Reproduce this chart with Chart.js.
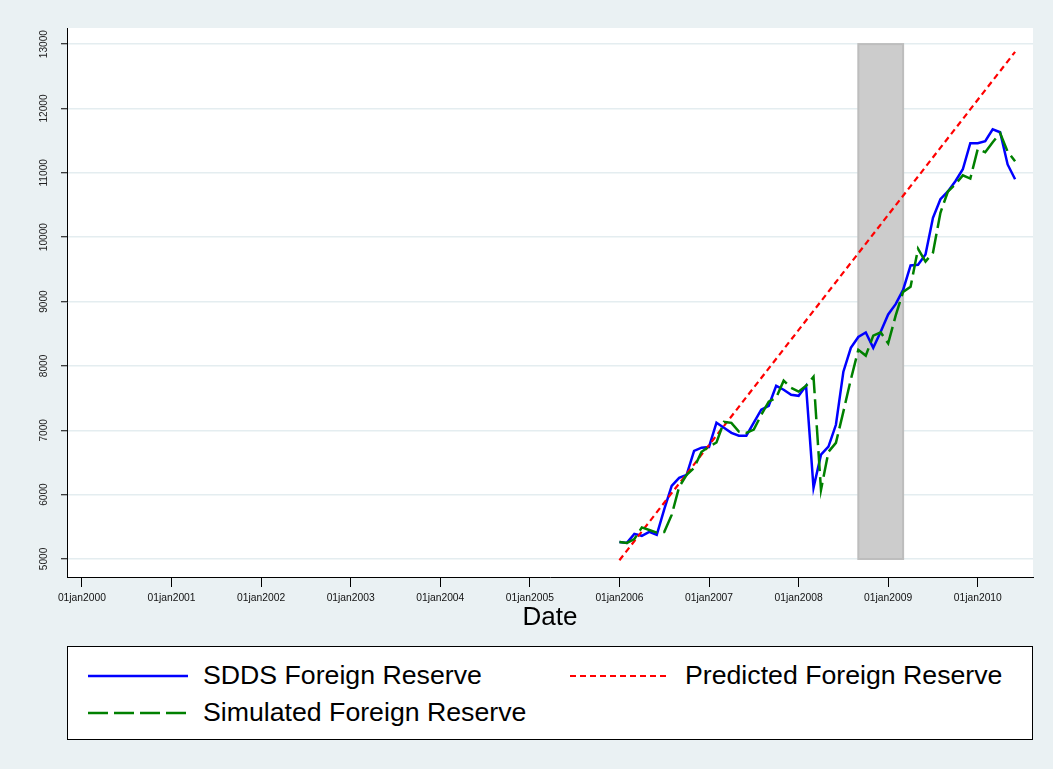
<!DOCTYPE html>
<html>
<head>
<meta charset="utf-8">
<script src="https://cdn.jsdelivr.net/npm/chart.js@4.4.1/dist/chart.umd.min.js"></script>
<style>
  body { margin: 0; background: #eaf1f3; font-family: Arial, "Liberation Sans", sans-serif; }
  #wrap { position: relative; width: 1053px; height: 769px; }
  #chart { position: absolute; left: 0; top: 0; }
  #xtitle { position: absolute; left: 0; width: 1100px; top: 601px; text-align: center; font-size: 26px; color: #000; }
  #legend { position: absolute; left: 67px; top: 646px; width: 964px; height: 92px; background: #fff; border: 1px solid #000; }
  .item { position: absolute; font-size: 26.7px; line-height: 30px; color: #000; white-space: nowrap; }
  .item svg { position: absolute; left: 0; top: 13px; }
  .item span { position: absolute; left: 115px; top: 0; }
</style>
</head>
<body>
<div id="wrap">
  <canvas id="chart" width="1053" height="769"></canvas>
  <div id="xtitle">Date</div>
  <div id="legend">
    <div class="item" style="left:20px;top:13px"><svg width="102" height="6"><line x1="0" y1="3" x2="100" y2="3" stroke="#0000ff" stroke-width="2.5"/></svg><span>SDDS Foreign Reserve</span></div>
    <div class="item" style="left:502px;top:13px"><svg width="102" height="6"><line x1="0" y1="3" x2="100" y2="3" stroke="#ff0000" stroke-width="2" stroke-dasharray="6,4"/></svg><span>Predicted Foreign Reserve</span></div>
    <div class="item" style="left:20px;top:50px"><svg width="102" height="6"><line x1="0" y1="3" x2="100" y2="3" stroke="#008000" stroke-width="2.5" stroke-dasharray="20,6"/></svg><span>Simulated Foreign Reserve</span></div>
  </div>
</div>
<script>
// months counted from 01jan2000; series start in jan 2006
const firstMonth = 72;

const sdds = [5265, 5250, 5390, 5360, 5420, 5375, 5770, 6136, 6260, 6307, 6680, 6730,
  6740, 7117, 7040, 6960, 6915, 6915, 7117, 7320, 7380, 7690, 7630, 7550,
  7535, 7690, 6105, 6620, 6745, 7085, 7910, 8280, 8450, 8520, 8280, 8530,
  8800, 8960, 9180, 9560, 9570, 9730, 10300, 10590, 10710, 10870, 11055, 11460,
  11460, 11490, 11675, 11630, 11130, 10900];

const simulated = [5265, 5250, 5310, 5490, 5450, 5410, 5420, 5685, 6120, 6307, 6415, 6665,
  6745, 6810, 7130, 7115, 6980, 6960, 7010, 7240, 7445, 7505, 7770, 7660,
  7600, 7690, 7830, 6075, 6665, 6805, 7290, 7790, 8250, 8160, 8470, 8520,
  8350, 8780, 9150, 9230, 9820, 9620, 9760, 10380, 10710, 10820, 10960, 10910,
  11370, 11320, 11475, 11615, 11330, 11180];

// straight trend line, read at its two ends
const predictedMonths = [72, 125];
const predicted = [4980, 12880];

const yearTicks = [2000, 2001, 2002, 2003, 2004, 2005, 2006, 2007, 2008, 2009, 2010];
const yTicks = [5000, 6000, 7000, 8000, 9000, 10000, 11000, 12000, 13000];

// recession band: sep 2008 - mar 2009
const bandStart = 104;
const bandEnd = 110;

function toPoints(vals, start) {
  return vals.map((v, i) => ({ x: start + i, y: v }));
}

const bgPlugin = {
  id: 'bg',
  beforeDraw(chart) {
    const ctx = chart.ctx, a = chart.chartArea;
    ctx.save();
    ctx.fillStyle = '#eaf1f3';
    ctx.fillRect(0, 0, chart.width, chart.height);
    ctx.fillStyle = '#ffffff';
    ctx.fillRect(a.left, a.top, a.right - a.left, a.bottom - a.top);
    ctx.restore();
  },
  beforeDatasetsDraw(chart) {
    const ctx = chart.ctx, x = chart.scales.x, y = chart.scales.y;
    const x0 = x.getPixelForValue(bandStart), x1 = x.getPixelForValue(bandEnd);
    const y0 = y.getPixelForValue(13000), y1 = y.getPixelForValue(5000);
    ctx.save();
    ctx.fillStyle = '#cccccc';
    ctx.fillRect(x0, y0, x1 - x0, y1 - y0);
    ctx.strokeStyle = '#bdbdbd';
    ctx.lineWidth = 2;
    ctx.strokeRect(x0, y0, x1 - x0, y1 - y0);
    ctx.restore();
  },
  afterDraw(chart) {
    // rotated y labels like the stata output
    const ctx = chart.ctx, y = chart.scales.y;
    ctx.save();
    ctx.fillStyle = '#222';
    ctx.font = '11px Arial, "Liberation Sans"';
    ctx.textAlign = 'center';
    ctx.textBaseline = 'middle';
    yTicks.forEach(v => {
      ctx.save();
      ctx.translate(44, y.getPixelForValue(v));
      ctx.rotate(-Math.PI / 2);
      ctx.scale(0.92, 1);
      ctx.fillText(String(v), 0, 0);
      ctx.restore();
    });
    ctx.restore();
  }
};

new Chart(document.getElementById('chart'), {
  type: 'line',
  data: {
    datasets: [{
      label: 'SDDS Foreign Reserve',
      data: toPoints(sdds, firstMonth),
      borderColor: '#0000ff',
      borderWidth: 2.5,
      order: 2
    }, {
      label: 'Predicted Foreign Reserve',
      data: predictedMonths.map((m, i) => ({ x: m, y: predicted[i] })),
      borderColor: '#ff0000',
      borderWidth: 2.2,
      borderDash: [6, 4],
      order: 1
    }, {
      label: 'Simulated Foreign Reserve',
      data: toPoints(simulated, firstMonth),
      borderColor: '#008000',
      borderWidth: 2.5,
      borderDash: [20, 6],
      order: 0
    }]
  },
  options: {
    responsive: false,
    devicePixelRatio: 1,
    animation: false,
    layout: { padding: { left: 0, top: 28, right: 20, bottom: 0 } },
    elements: { point: { radius: 0 }, line: { tension: 0, fill: false } },
    plugins: { legend: { display: false }, tooltip: { enabled: false } },
    scales: {
      x: {
        type: 'linear',
        min: -2,
        max: 127.4,
        afterBuildTicks: s => { s.ticks = yearTicks.map(yr => ({ value: (yr - 2000) * 12 })); },
        afterFit: s => { s.height = 192; },
        grid: { drawOnChartArea: false, drawTicks: true, tickLength: 10, tickColor: '#000', tickWidth: 1 },
        border: { display: true, color: '#000', width: 1 },
        ticks: {
          autoSkip: false, maxRotation: 0, minRotation: 0, padding: 5,
          color: '#111', font: { size: 10.3, family: 'Arial, "Liberation Sans"' },
          callback: v => '01jan' + (2000 + v / 12)
        }
      },
      y: {
        type: 'linear',
        min: 4720,
        max: 13250,
        afterBuildTicks: s => { s.ticks = yTicks.map(v => ({ value: v })); },
        afterFit: s => { s.width = 67; },
        grid: { color: '#e4edf0', lineWidth: 1.5, drawTicks: true, tickLength: 6, tickColor: '#000', tickWidth: 1 },
        border: { display: true, color: '#000', width: 1 },
        ticks: { display: false }
      }
    }
  },
  plugins: [bgPlugin]
});
</script>
</body>
</html>
